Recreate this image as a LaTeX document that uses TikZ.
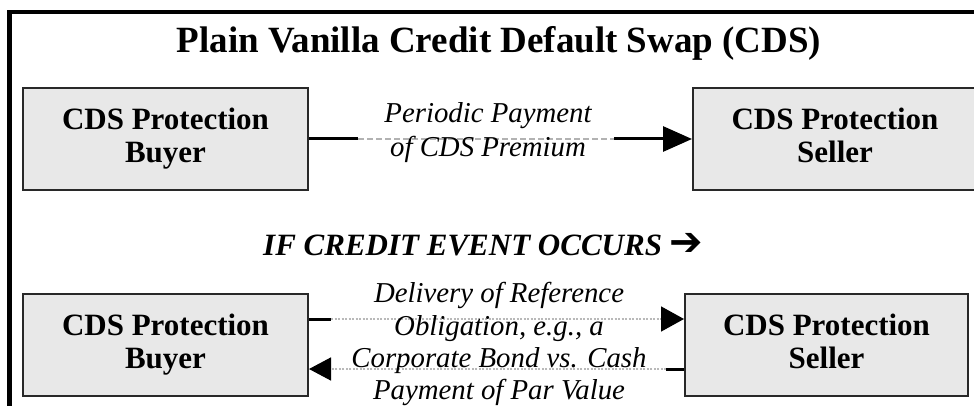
\documentclass[tikz,border=0pt]{standalone}
\usepackage{fontspec}
\setmainfont{Liberation Serif}
\newfontfamily\arrowfont{DejaVu Sans}
\usetikzlibrary{arrows.meta,calc}
\definecolor{boxfill}{RGB}{232,232,232}
\definecolor{boxline}{RGB}{40,40,40}
\begin{document}
\begin{tikzpicture}[x=1pt,y=1pt,
  party/.style={draw=boxline, line width=2pt, fill=boxfill, minimum width=285pt, minimum height=102pt, inner sep=0pt, align=center, font=\fontsize{31}{33}\selectfont\bfseries},
  lbl/.style={inner sep=0pt, anchor=base, font=\fontsize{28.8}{33}\selectfont\itshape},
  solidflow/.style={line width=3pt, black},
  grayflow/.style={line width=1.5pt, gray!60, dash pattern=on 6pt off 3pt},
  dotflow/.style={line width=1.5pt, gray!55, dash pattern=on 2pt off 1.5pt},
]
\useasboundingbox (0,0) rectangle (974,-406);
\fill[white] (0,0) rectangle (974,-406);
% frame
\coordinate (frA) at (985,-12);
\coordinate (frB) at (9.5,-12);
\coordinate (frC) at (9.5,-415);
\draw[line width=4.5pt] (frA) -- (frB) -- (frC);
% title
\node[inner sep=0pt, anchor=base, font=\fontsize{37}{40}\selectfont\bfseries] (title) at (499,-53) {Plain Vanilla Credit Default Swap (CDS)};
% parties
\node[party] (buyer1) at (165.5,-139) {CDS Protection\\Buyer};
\node[party, minimum width=284pt] (seller1) at (835,-139) {CDS Protection\\Seller\vphantom{y}};
\node[party] (buyer2) at (165.5,-345) {CDS Protection\\Buyer};
\node[party, minimum width=283pt] (seller2) at (826.5,-345) {CDS Protection\\Seller\vphantom{y}};
% top flow
\coordinate (t1) at ($(buyer1.east)+(49,0)$);
\coordinate (t2) at ($(seller1.west)+(-78,0)$);
\draw[solidflow] (buyer1.east) -- (t1);
\draw[grayflow] (t1) -- (t2);
\draw[solidflow, -{Triangle[length=29pt,width=25pt]}] (t2) -- (seller1.west);
\node[lbl] (p1) at (488,-123) {Periodic Payment};
\node[lbl] (p2) at (488,-157) {of CDS Premium};
% if note
\node[inner sep=0pt, anchor=base west, font=\fontsize{31}{34}\selectfont\bfseries\itshape] (ifnote) at (263,-255) {IF CREDIT EVENT OCCURS {\arrowfont\mdseries\upshape\fontsize{40}{40}\selectfont ➔}};
% bottom flows
\coordinate (b1s) at ($(buyer2.north east)+(0,-26)$);
\coordinate (b1m) at ($(b1s)+(22,0)$);
\coordinate (b1e) at ($(seller2.north west)+(0,-26)$);
\draw[solidflow] (b1s) -- (b1m);
\draw[dotflow, -{Triangle[length=23pt,width=25pt,color=black]}] (b1m) -- (b1e);
\coordinate (b2s) at ($(seller2.north west)+(0,-76)$);
\coordinate (b2m) at ($(b2s)+(-18,0)$);
\coordinate (b2e) at ($(buyer2.north east)+(0,-76)$);
\draw[solidflow] (b2s) -- (b2m);
\draw[dotflow, -{Triangle[length=22pt,width=23pt,color=black]}] (b2m) -- (b2e);
\node[lbl] (d1) at (499,-302) {Delivery of Reference};
\node[lbl] (d2) at (499,-335) {Obligation, e.g., a};
\node[lbl] (d3) at (499,-367) {Corporate Bond vs. Cash};
\node[lbl] (d4) at (499,-399) {Payment of Par Value};
\end{tikzpicture}
\end{document}
